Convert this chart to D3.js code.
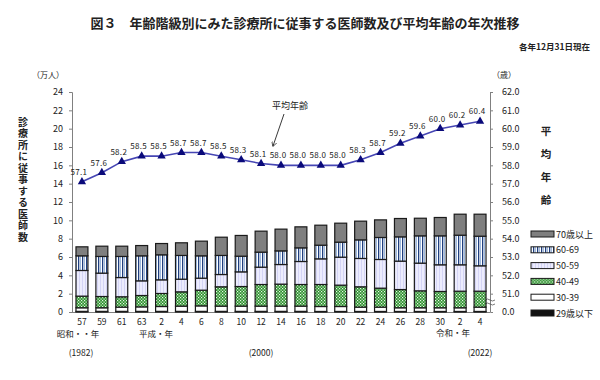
<!DOCTYPE html>
<html><head><meta charset="utf-8">
<script src="https://cdn.jsdelivr.net/npm/d3@7"></script>
<style>
body{margin:0;background:#fff;}
svg{display:block;}
text{font-family:"Noto Sans CJK JP","Noto Sans",sans-serif;fill:#222;}
</style></head>
<body>
<svg id="c" width="600" height="380"></svg>
<script>
// ---- data ----
const years = [1982,1984,1986,1988,1990,1992,1994,1996,1998,2000,2002,2004,2006,2008,2010,2012,2014,2016,2018,2020,2022];
const tickLabels = ["57","59","61","63","2","4","6","8","10","12","14","16","18","20","22","24","26","28","30","2","4"];
// 万人
const age29 = [0.07,0.07,0.07,0.07,0.07,0.07,0.07,0.07,0.07,0.07,0.07,0.07,0.06,0.06,0.06,0.06,0.06,0.06,0.06,0.06,0.06];
const age30s = [0.39,0.39,0.46,0.49,0.53,0.57,0.60,0.57,0.57,0.57,0.57,0.57,0.54,0.54,0.47,0.47,0.40,0.40,0.40,0.40,0.47];
const age40s = [1.27,1.23,1.13,1.24,1.42,1.56,1.71,2.11,2.14,2.36,2.40,2.36,2.40,2.33,2.22,2.07,1.99,1.85,1.78,1.81,1.74];
const age50s = [2.80,2.55,2.10,1.60,1.49,1.38,1.31,1.34,1.60,1.89,2.14,2.51,2.80,3.05,3.09,3.13,3.10,3.02,2.91,2.88,2.77];
const age60s = [1.60,1.82,2.30,2.73,2.73,2.59,2.44,2.08,1.71,1.64,1.49,1.49,1.49,1.64,2.03,2.40,2.65,2.98,3.16,3.23,3.23];
const age70p = [0.98,1.12,1.12,1.12,1.23,1.38,1.60,1.99,2.26,2.29,2.37,2.29,2.18,2.07,2.04,1.92,2.00,1.92,2.00,2.29,2.40];
const avgAge = [57.1,57.6,58.2,58.5,58.5,58.7,58.7,58.5,58.3,58.1,58.0,58.0,58.0,58.0,58.3,58.7,59.2,59.6,60.0,60.2,60.4];
const leftTicks = [0,2,4,6,8,10,12,14,16,18,20,22,24];
const rightTicks = [51,52,53,54,55,56,57,58,59,60,61,62];
const seriesKeys = ["u29","a30","a40","a50","a60","a70"];
const legendLabels = ["70歳以上","60-69","50-59","40-49","30-39","29歳以下"];

const rows = years.map((y,i)=>({year:y,u29:age29[i],a30:age30s[i],a40:age40s[i],a50:age50s[i],a60:age60s[i],a70:age70p[i]}));

const svg = d3.select("#c");
const defs = svg.append("defs");
// patterns
let p = defs.append("pattern").attr("id","p60").attr("patternUnits","userSpaceOnUse").attr("width",4).attr("height",4);
p.append("rect").attr("width",4).attr("height",4).attr("fill","#ffffff");
p.append("rect").attr("x",0).attr("width",1).attr("height",4).attr("fill","#9db8dc");
p.append("rect").attr("x",2).attr("width",1.3).attr("height",4).attr("fill","#1f3f80");
p = defs.append("pattern").attr("id","p50").attr("patternUnits","userSpaceOnUse").attr("width",3).attr("height",3);
p.append("rect").attr("width",3).attr("height",3).attr("fill","#ececfd");
p.append("rect").attr("x",1).attr("width",0.8).attr("height",3).attr("fill","#cfcff4");
p = defs.append("pattern").attr("id","p40").attr("patternUnits","userSpaceOnUse").attr("width",3).attr("height",3);
p.append("rect").attr("width",3).attr("height",3).attr("fill","#2f922f");
p.append("rect").attr("x",0).attr("y",0).attr("width",1.2).attr("height",1.2).attr("fill","#e8f6e8");
p.append("rect").attr("x",1.5).attr("y",1.5).attr("width",1.2).attr("height",1.2).attr("fill","#e8f6e8");

const fills = {u29:"#111111",a30:"#ffffff",a40:"url(#p40)",a50:"url(#p50)",a60:"url(#p60)",a70:"#7f7f7f"};

const x = d3.scaleBand().domain(years).range([72,490]).paddingInner(0.4).paddingOuter(0.2);
const y = d3.scaleLinear().domain([0,24]).range([312,92]);
const yR = d3.scaleLinear().domain([50,62]).range([312,92]);

// title
svg.append("text").attr("x",305).attr("y",28).attr("text-anchor","middle")
  .style("font-size","13px").style("font-weight","bold")
  .text("図３　年齢階級別にみた診療所に従事する医師数及び平均年齢の年次推移");
svg.append("text").attr("x",590).attr("y",50).attr("text-anchor","end").style("font-size","8.5px").style("font-weight","bold").text("各年12月31日現在");

// axes
const gL = svg.append("g").attr("transform","translate(72,0)")
  .call(d3.axisLeft(y).tickValues(leftTicks).tickSize(3).tickPadding(6).tickFormat(d3.format("d")));
const gR = svg.append("g").attr("transform","translate(490,0)")
  .call(d3.axisRight(yR).tickValues(rightTicks).tickSize(3).tickPadding(9).tickFormat(d3.format(".1f")));
[gL,gR].forEach(g=>{
  g.select(".domain").attr("stroke","#808080");
  g.selectAll(".tick line").attr("stroke","#808080");
  g.selectAll(".tick text").style("font-size","9px").style("font-family","'Noto Sans CJK JP',sans-serif").attr("fill","#222");
});
// right axis 0.0 label and break
svg.append("text").attr("x",502).attr("y",315).style("font-size","9px").text("0.0");
svg.append("path").attr("d","M485,300 q2.5,-2 5,0 t5,0 M485,304 q2.5,-2 5,0 t5,0").attr("fill","none").attr("stroke","#555").attr("stroke-width",0.8);
// bottom axis line
svg.append("line").attr("x1",72).attr("x2",490).attr("y1",312.5).attr("y2",312.5).attr("stroke","#808080").attr("stroke-width",1.2);

// unit labels
svg.append("text").attr("x",48).attr("y",78).attr("text-anchor","middle").style("font-size","8px").text("（万人）");
svg.append("text").attr("x",504).attr("y",78).attr("text-anchor","middle").style("font-size","8px").text("（歳）");

// vertical titles
svg.append("text").attr("x",23).attr("y",117)
  .style("writing-mode","vertical-rl").style("font-size","10px").style("font-weight","bold").style("letter-spacing","1.5px")
  .text("診療所に従事する医師数");
const rightTitle = "平均年齢".split("");
svg.append("g").selectAll("text").data(rightTitle).join("text")
  .attr("x",546).attr("y",(d,i)=>135+i*23).attr("text-anchor","middle").style("font-size","10.5px").style("font-weight","bold").text(d=>d);

// bars
const stack = d3.stack().keys(seriesKeys)(rows);
svg.append("g").selectAll("g").data(stack).join("g")
  .attr("fill",d=>fills[d.key])
  .selectAll("rect").data(d=>d).join("rect")
  .attr("x",d=>x(d.data.year)).attr("width",x.bandwidth())
  .attr("y",d=>y(d[1])).attr("height",d=>Math.max(0,y(d[0])-y(d[1])))
  .attr("stroke","#1a1a1a").attr("stroke-width",1.2);

// line
const cx = d=>x(d)+x.bandwidth()/2;
const line = d3.line().x((d,i)=>cx(years[i])).y(d=>yR(d));
svg.append("path").datum(avgAge).attr("d",line).attr("fill","none").attr("stroke","#4646b4").attr("stroke-width",1.6);
const tri = d3.symbol().type(d3.symbolTriangle).size(30);
svg.append("g").selectAll("path").data(avgAge).join("path")
  .attr("d",tri).attr("transform",(d,i)=>`translate(${cx(years[i])},${yR(d)})`).attr("fill","#0a0a7a");
svg.append("g").selectAll("text").data(avgAge).join("text")
  .attr("x",(d,i)=>cx(years[i])-3).attr("y",d=>yR(d)-7).attr("text-anchor","middle")
  .style("font-size","8px").style("letter-spacing","0.3px").text(d=>d3.format(".1f")(d));

// annotation
svg.append("text").attr("x",290).attr("y",109).attr("text-anchor","middle").style("font-size","9px").text("平均年齢");
defs.append("marker").attr("id","ah").attr("viewBox","0 0 10 10").attr("refX",8).attr("refY",5)
  .attr("markerWidth",6).attr("markerHeight",6).attr("orient","auto")
  .append("path").attr("d","M0,0 L9,5 L0,10").attr("fill","none").attr("stroke","#222").attr("stroke-width",1.3);
svg.append("line").attr("x1",284).attr("y1",114).attr("x2",273).attr("y2",146).attr("stroke","#222").attr("stroke-width",0.9).attr("marker-end","url(#ah)");

// x tick labels
svg.append("g").selectAll("text").data(tickLabels).join("text")
  .attr("x",(d,i)=>cx(years[i])).attr("y",325).attr("text-anchor","middle").style("font-size","8.5px").text(d=>d);
const eraLabels = [{t:"昭和・・年",x:78,y:337},{t:"平成・年",x:156,y:337},{t:"令和・年",x:453,y:336},{t:"(1982)",x:81,y:356},{t:"(2000)",x:261,y:356},{t:"(2022)",x:480,y:356}];
svg.append("g").selectAll("text").data(eraLabels).join("text")
  .attr("x",d=>d.x).attr("y",d=>d.y).attr("text-anchor","middle").style("font-size","8.5px").text(d=>d.t);

// legend
const legFills = ["#7f7f7f","url(#p60)","url(#p50)","url(#p40)","#ffffff","#111111"];
const lg = svg.append("g").selectAll("g").data(legendLabels).join("g")
  .attr("transform",(d,i)=>`translate(531,${234+i*15.8})`);
lg.append("rect").attr("x",0).attr("y",-3).attr("width",23).attr("height",6).attr("fill",(d,i)=>legFills[i]).attr("stroke","#1a1a1a").attr("stroke-width",1);
lg.append("text").attr("x",25).attr("y",3.5).style("font-size","9px").text(d=>d);
</script>
</body></html>
